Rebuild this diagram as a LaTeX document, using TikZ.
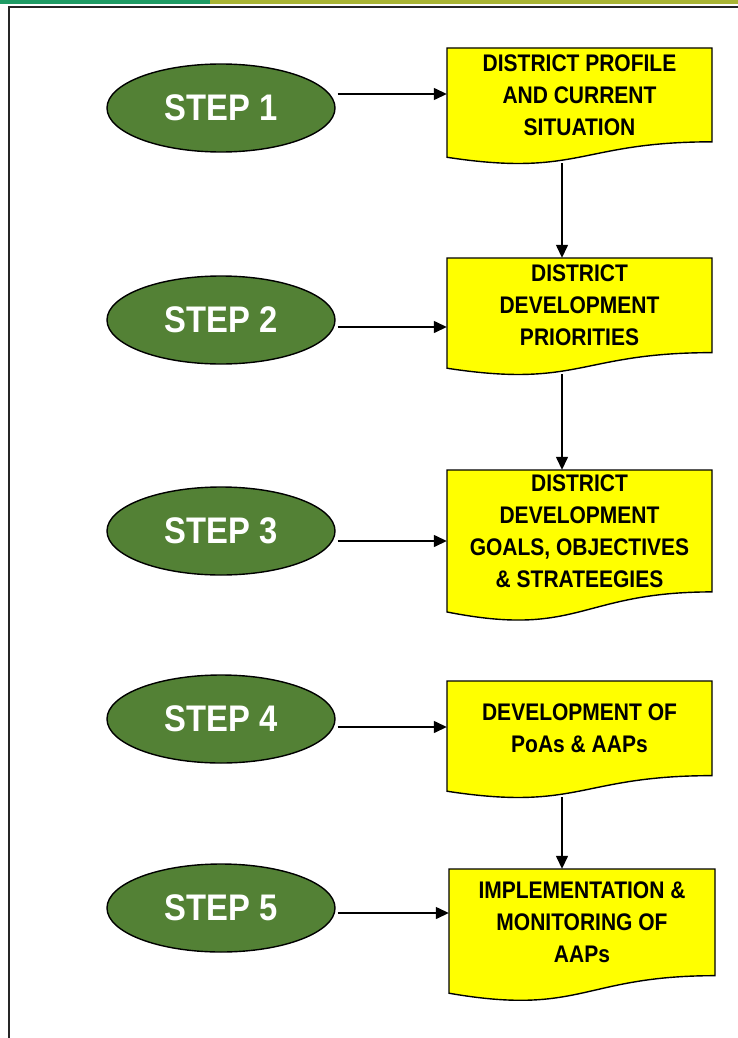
\documentclass[tikz,border=0pt]{standalone}
\usepackage{fontspec}
\setmainfont{Liberation Sans}
\newfontfamily\boxfont[FakeStretch=0.875]{Liberation Sans}
\newfontfamily\stepfont[FakeStretch=0.885]{Liberation Sans}
\usetikzlibrary{shapes.geometric,arrows.meta}
\definecolor{stepgreen}{HTML}{538135}
\definecolor{docyellow}{HTML}{FFFF00}
\definecolor{bargreen}{HTML}{1E9B64}
\definecolor{barolive}{HTML}{A9B535}
\tikzset{
  stepnode/.style={ellipse, draw=black, line width=1.4pt, fill=stepgreen,
    minimum width=228pt, minimum height=88pt, inner sep=0pt, text=white,
    font=\stepfont\bfseries\fontsize{37}{40}\selectfont},
  docfill/.style={draw=black, line width=1.4pt, fill=docyellow, line join=miter},
  doctext/.style={rectangle, inner sep=0pt, align=center,
    font=\boxfont\bfseries\fontsize{24}{32}\selectfont},
  arr/.style={line width=1.4pt, -{Triangle[length=13pt,width=12pt]}},
}
% name, left, top, width, height, text
\newcommand\docbox[6]{%
  \path[docfill] (#2,#3) -- ++(#4,0) -- ++(0,{0.802*#5})
    .. controls ({#2+0.5*#4},{#3+0.802*#5}) and ({#2+0.5*#4},{#3+1.107*#5}) .. (#2,{#3+0.934*#5}) -- cycle;
  \node[doctext, minimum width=#4 pt, minimum height={0.802*#5 pt}] (#1) at ({#2+0.5*#4},{#3+0.401*#5}) {#6};
  \coordinate (#1-bot) at (562,{#3+0.95*#5+4});
}
\begin{document}
\begin{tikzpicture}[x=1pt,y=-1pt]
\useasboundingbox (0,0) rectangle (738,1038);
% top bar and frame
\fill[bargreen] (0,0) rectangle (210,4);
\fill[barolive] (210,0) rectangle (738,4);
\draw[line width=2pt, black!85] (738,7) -- (9,7) -- (9,1038);

% steps
\node[stepnode] (e1) at (221,108) {STEP 1};
\node[stepnode] (e2) at (221,320) {STEP 2};
\node[stepnode] (e3) at (221,531) {STEP 3};
\node[stepnode] (e4) at (221,719) {STEP 4};
\node[stepnode] (e5) at (221,908) {STEP 5};

% documents
\docbox{d1}{447}{48}{265}{117}{DISTRICT PROFILE\\AND CURRENT\\SITUATION}
\docbox{d2}{447}{258}{265}{118}{DISTRICT\\DEVELOPMENT\\PRIORITIES}
\docbox{d3}{447}{470}{265}{152}{DISTRICT\\DEVELOPMENT\\GOALS, OBJECTIVES\\\& STRATEEGIES}
\docbox{d4}{447}{681}{265}{118}{DEVELOPMENT OF\\PoAs \& AAPs}
\docbox{d5}{449}{869}{266}{133}{IMPLEMENTATION \&\\MONITORING OF\\AAPs}

% horizontal arrows
\draw[arr] ([xshift=2pt,yshift=14pt]e1.east) -- ([yshift=14pt]e1.east -| d1.west);
\draw[arr] ([xshift=2pt,yshift=-7pt]e2.east) -- ([yshift=-7pt]e2.east -| d2.west);
\draw[arr] ([xshift=2pt,yshift=-10pt]e3.east) -- ([yshift=-10pt]e3.east -| d3.west);
\draw[arr] ([xshift=2pt,yshift=-8pt]e4.east) -- ([yshift=-8pt]e4.east -| d4.west);
\draw[arr] ([xshift=2pt,yshift=-5pt]e5.east) -- ([yshift=-5pt]e5.east -| d5.west);

% vertical arrows
\draw[arr] (d1-bot) -- (d1-bot |- d2.north);
\draw[arr] (d2-bot) -- (d2-bot |- d3.north);
\draw[arr] (d4-bot) -- (d4-bot |- d5.north);
\end{tikzpicture}
\end{document}
